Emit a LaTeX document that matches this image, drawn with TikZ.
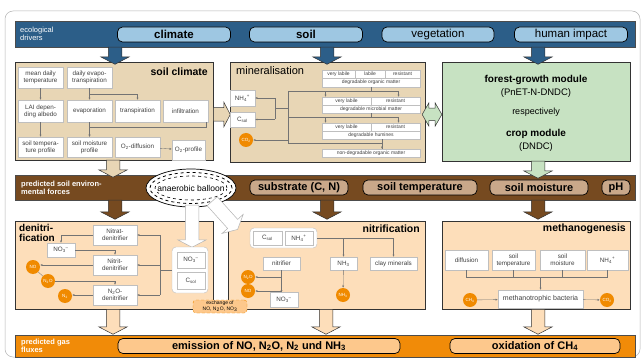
\documentclass[tikz,border=0pt]{standalone}
\usepackage{fontspec}
\setmainfont{Liberation Sans}
\usetikzlibrary{arrows.meta, shapes.arrows, shapes.geometric, positioning}

\definecolor{driverblue}{RGB}{44,94,136}
\definecolor{driverpill}{RGB}{158,199,226}
\definecolor{soilbrown}{RGB}{118,74,32}
\definecolor{soilpill}{RGB}{201,168,138}
\definecolor{fluxorange}{RGB}{241,139,8}
\definecolor{fluxpill}{RGB}{253,200,140}
\definecolor{tanfill}{RGB}{232,214,181}
\definecolor{plantgreen}{RGB}{199,226,194}
\definecolor{peach}{RGB}{253,222,186}
\definecolor{gasdot}{RGB}{240,138,0}

\newcommand{\fs}[2]{\fontsize{#1}{#2}\selectfont}

\begin{document}
\begin{tikzpicture}[x=1pt, y=-1pt,
	bandbox/.style={draw=black!70, line width=0.6pt, anchor=north west, inner sep=0pt, minimum width=620},
	bandtext/.style={text=white, align=left, anchor=west, inner sep=0pt, font=\fs{7.5}{8.5}},
	pill/.style={draw=black, line width=0.7pt, rounded corners=5pt, inner sep=0pt, minimum height=15, font=\fs{11}{12}},
	panel/.style={draw=black!80, line width=0.6pt, anchor=north west, inner sep=0pt},
	title/.style={inner sep=0pt, font=\bfseries\fs{10.5}{11.5}},
	cell/.style={draw=black!25, fill=white, align=center, inner sep=0pt, text=black!75, font=\fs{6.3}{6.9}},
	tabcell/.style={cell, minimum height=8, font=\fs{5}{5}},
	pool/.style={draw=black!25, fill=white, rounded corners=4pt, inner sep=0pt},
	gas/.style={circle, fill=gasdot, text=white, inner sep=0pt, minimum size=14, font=\fs{4.5}{5}},
	flow/.style={draw=black!55, line width=0.35pt, -{Latex[length=2.2pt, width=2pt]}},
	link/.style={draw=black!55, line width=0.35pt},
	blockarrow/.style={single arrow, draw=black!80, line width=0.5pt, inner sep=6.5pt,
		single arrow head extend=7.5pt, single arrow tip angle=125, single arrow head indent=0pt, anchor=tail},
	downarrow/.style={blockarrow, shape border rotate=270, minimum height=#1}
]
	\useasboundingbox (0,0) rectangle (644,363);
	% outer frame
	\draw[black!30, line width=0.5pt, rounded corners=8pt] (5,11) rectangle (640,357);

	% panels of the model
	\node[panel, fill=tanfill, minimum width=198, minimum height=98] (climPanel) at (15,62) {};
	\node[panel, fill=tanfill, minimum width=195, minimum height=100] (minPanel) at (230,62) {};
	\node[panel, fill=plantgreen, minimum width=188, minimum height=99] (plantPanel) at (442,62) {};
	\node[panel, fill=peach, minimum width=198, minimum height=88] (denitPanel) at (15,221) {};
	\node[panel, fill=peach, minimum width=197, minimum height=88] (nitPanel) at (228,221) {};
	\node[panel, fill=peach, minimum width=188, minimum height=88] (methPanel) at (442,221) {};

	% the three bands
	\node[bandbox, fill=driverblue, minimum height=26] (drivers) at (15,21) {};
	\node[bandbox, fill=soilbrown, minimum height=25] (forces) at (15,175) {};
	\node[bandbox, fill=fluxorange, minimum height=22] (fluxes) at (15,335) {};
	\node[bandtext] (driversLbl) at (20,34) {ecological\\drivers};
	\node[bandtext, font=\bfseries\fs{7.5}{8.5}] (forcesLbl) at (21,188) {predicted soil environ-\\mental forces};
	\node[bandtext, font=\bfseries\fs{7.5}{8.5}] (fluxesLbl) at (21,346) {predicted gas\\fluxes};

	% block arrows between the levels
	\foreach \x/\n in {115/a, 327/b, 538/c}
		\node[downarrow=16, fill=driverblue] (drv\n) at (\x,47) {};
	\node[downarrow=15, fill=tanfill] (climDown) at (113,160) {};
	\node[downarrow=14, fill=plantgreen] (plantDown) at (538,161) {};
	\foreach \x/\n in {115/a, 327/b, 538/c}
		\node[downarrow=19, fill=soilbrown] (frc\n) at (\x,200) {};
	\foreach \x/\n in {113/a, 326/b, 538/c}
		\node[downarrow=25, fill=peach] (flx\n) at (\x,309) {};
	\node[blockarrow, minimum height=17, inner sep=6.5pt, single arrow head extend=5.5pt, fill=tanfill] (climMin) at (213,114.5) {};
	\node[double arrow, draw=black!80, line width=0.5pt, fill=plantgreen, inner sep=6pt, minimum height=15,
		double arrow head extend=5.5pt, double arrow tip angle=120, double arrow head indent=0pt] (minPlant) at (432,114.5) {};

	% ecological drivers
	\node[pill, fill=driverpill, minimum width=113, font=\bfseries\fs{11.5}{12}] (climate) at (174,34.5) {climate};
	\node[pill, fill=driverpill, minimum width=113, font=\bfseries\fs{11.5}{12}] (soil) at (306,34.5) {soil};
	\node[pill, fill=driverpill, minimum width=112, font=\fs{11.5}{12}] (vegetation) at (438,34.5) {vegetation};
	\node[pill, fill=driverpill, minimum width=113, font=\fs{11.5}{12}] (humanImpact) at (571,34.5) {human impact};

	% soil climate
	\node[title, anchor=east] (climTitle) at (208,72) {soil climate};
	\node[cell, minimum width=45, minimum height=21] (meanTemp) at (40.5,77.5) {mean daily\\temperature};
	\node[cell, minimum width=45, minimum height=21] (evapoTrans) at (89.5,77.5) {daily evapo-\\transpiration};
	\node[cell, minimum width=45, minimum height=22] (albedo) at (40.5,111) {LAI depen-\\ding albedo};
	\node[cell, minimum width=45, minimum height=22] (evaporation) at (89.5,111) {evaporation};
	\node[cell, minimum width=45, minimum height=22] (transpiration) at (137.5,111) {transpiration};
	\node[cell, minimum width=45, minimum height=22] (infiltration) at (185.5,111) {infiltration};
	\node[cell, minimum width=45, minimum height=20] (tempProfile) at (40.5,147) {soil tempera-\\ture profile};
	\node[cell, minimum width=45, minimum height=20] (moistProfile) at (89.5,147) {soil moisture\\profile};
	\node[cell, minimum width=45, minimum height=20] (oxyDiff) at (137.5,147) {O\textsubscript{2}-diffusion};
	\node[cell, minimum width=33, minimum height=20] (oxyProfile) at (188.5,150) {O\textsubscript{2}-profile};
	\draw[flow] (meanTemp) -- (albedo);
	\draw[flow] (evapoTrans) -- (evaporation);
	\draw[flow] (evapoTrans.south) -- ++(0,6) -| (transpiration.north);
	\draw[flow] (albedo) -- (tempProfile);
	\draw[flow] (evaporation) -- (moistProfile);
	\draw[flow] ([xshift=-2pt]infiltration.south east) -- ++(0,5) -| (moistProfile.north);
	\draw[flow] (oxyDiff) -- (oxyProfile);

	% mineralisation
	\node[inner sep=0pt, anchor=west, font=\fs{11}{12}] (minTitle) at (236,71) {mineralisation};
	\node[tabcell, minimum width=33] (t1a) at (338.5,74) {very labile};
	\node[tabcell, minimum width=30] (t1b) at (370,74) {labile};
	\node[tabcell, minimum width=35] (t1c) at (402.5,74) {resistant};
	\node[tabcell, minimum width=98, minimum height=9] (t1d) at (371,82.5) {degradable organic matter};
	\node[tabcell, minimum width=49] (t2a) at (346.5,101) {very labile};
	\node[tabcell, minimum width=49] (t2b) at (395.5,101) {resistant};
	\node[tabcell, minimum width=98] (t2d) at (371,109) {degradable microbial matter};
	\node[tabcell, minimum width=49] (t3a) at (346.5,127) {very labile};
	\node[tabcell, minimum width=49] (t3b) at (395.5,127) {resistant};
	\node[tabcell, minimum width=98] (t3d) at (371,135) {degradable humines};
	\node[tabcell, minimum width=98] (t4) at (371,153) {non-degradable organic matter};
	\node[cell, minimum width=25, minimum height=16] (nh4Min) at (242.5,98) {NH\textsubscript{4}\textsuperscript{+}};
	\node[cell, minimum width=25, minimum height=15] (csolMin) at (242.5,119.5) {C\textsubscript{sol}};
	\node[gas] (co2Min) at (246,140) {CO\textsubscript{2}};
	\coordinate (busTop) at (288,91);
	\coordinate (busMid) at (288,117);
	\coordinate (busLow) at (288,143);
	\coordinate (leftBus) at (275,108);
	\draw[link] (busTop) -- (busLow) -| ([xshift=11pt]t4.north);
	\draw[link] (t1d.south) -- (t1d.south |- busTop);
	\draw[flow] (busTop) -| ([xshift=-21pt]t2a.north);
	\draw[flow] (busTop) -| ([xshift=3pt]t2b.north);
	\draw[link] (t2d.south) -- (t2d.south |- busMid);
	\draw[flow] (busMid) -| ([xshift=-21pt]t3a.north);
	\draw[flow] (busMid) -| ([xshift=3pt]t3b.north);
	\draw[flow] ([xshift=11pt]t3d.south) -- ([xshift=11pt]t4.north);
	\draw[link] (leftBus) -- (leftBus -| busTop);
	\draw[link] (nh4Min.east -| leftBus) -- (csolMin.east -| leftBus);
	\draw[flow] (nh4Min.east -| leftBus) -- (nh4Min);
	\draw[flow] (csolMin.east -| leftBus) -- (csolMin);
	\draw[flow] (co2Min -| busLow) -- (co2Min);

	% plant growth
	\node[font=\bfseries\fs{10}{11}] (forestMod) at (536,80) {forest-growth module};
	\node[font=\fs{9.5}{10}, below=-3pt of forestMod] (pnet) {(PnET-N-DNDC)};
	\node[font=\fs{9}{10}] (resp) at (536,112) {respectively};
	\node[font=\bfseries\fs{10}{11}] (cropMod) at (536,134) {crop module};
	\node[font=\fs{9.5}{10}, below=-3pt of cropMod] (dndc) {(DNDC)};

	% predicted soil environmental forces
	\node[pill, fill=soilpill, minimum width=98, font=\bfseries\fs{11}{12}] (substrate) at (299,187.5) {substrate (C, N)};
	\node[pill, fill=soilpill, minimum width=114, font=\bfseries\fs{11}{12}] (soilTemp) at (420,187.5) {soil temperature};
	\node[pill, fill=soilpill, minimum width=98, font=\bfseries\fs{11}{12}] (soilMoist) at (539,187.5) {soil moisture};
	\node[pill, fill=soilpill, minimum width=28, font=\bfseries\fs{11}{12}] (ph) at (616,187.5) {pH};
	\node[ellipse, draw, line width=0.7pt, fill=white, minimum width=90, minimum height=38] (balloon) at (191,188) {};
	\node[ellipse, draw, dashed, line width=0.8pt, minimum width=82, minimum height=31] (balloonRing) at (191,188) {};
	\node[ellipse, draw, dashed, line width=0.6pt, minimum width=72, minimum height=24] (balloonCore) at (191,188) {};
	\node[fill=white, inner sep=1pt, font=\fs{8.5}{9}] (balloonLbl) at (191,188) {anaerobic balloon};

	% denitrification
	\node[title, anchor=north west, align=left, font=\bfseries\fs{10}{10.5}] (denitTitle) at (19,224) {denitri-\\fication};
	\node[cell, minimum width=44, minimum height=20] (nitratDen) at (115,235) {Nitrat-\\denitrifier};
	\node[cell, minimum width=28, minimum height=14] (no3Den) at (61,250) {NO\textsubscript{3}\textsuperscript{--}};
	\node[cell, minimum width=44, minimum height=20] (nitritDen) at (115,265) {Nitrit-\\denitrifier};
	\node[cell, minimum width=44, minimum height=20] (n2oDen) at (115,295) {N\textsubscript{2}O-\\denitrifier};
	\node[gas] (noD) at (33,267) {NO};
	\node[gas] (n2oD) at (48,281) {N\textsubscript{2}O};
	\node[gas] (n2D) at (65,296) {N\textsubscript{2}};
	\node[downarrow=42, fill=white, draw=black!30] (balloonDen) at (192,205) {};
	\node[pool, minimum width=36, minimum height=46] (poolDen) at (190,270) {};
	\node[cell, minimum width=28, minimum height=16] (no3Pool) at (191,260) {NO\textsubscript{3}\textsuperscript{--}};
	\node[cell, minimum width=28, minimum height=17] (csolPool) at (191,281) {C\textsubscript{sol}};
	\draw[link] (poolDen.west) -- ++(-12,0) coordinate (denBus);
	\draw[link] (denBus |- nitratDen) -- (denBus |- n2oDen);
	\draw[flow] (denBus |- nitratDen) -- (nitratDen);
	\draw[flow] (denBus |- nitritDen) -- (nitritDen);
	\draw[flow] (denBus |- n2oDen) -- (n2oDen);
	\draw[flow] (nitratDen.west) -| (no3Den.north);
	\draw[flow] (no3Den.east) -| (nitritDen.north);
	\draw[flow] (nitritDen.west) -- (nitritDen.west -| noD.east);
	\draw[link] (noD) -- (n2oD);
	\draw[flow] (n2oD.east) -| (n2oDen.north);
	\draw[flow] (n2oDen.west) -- (n2oDen.west -| n2D.east);

	% nitrification
	\node[blockarrow, rotate=-48, minimum height=38, fill=white, draw=black!30] (balloonNit) at (212,201) {};
	\node[title, anchor=east] (nitTitle) at (420,229) {nitrification};
	\node[pool, minimum width=67, minimum height=20] (poolNit) at (283.5,238) {};
	\node[cell, minimum width=29, minimum height=14] (csolNit) at (267.5,238) {C\textsubscript{sol}};
	\node[cell, minimum width=28, minimum height=14] (nh4Nit) at (299,238) {NH\textsubscript{4}\textsuperscript{+}};
	\node[cell, minimum width=37, minimum height=13] (nitrifier) at (281.5,263.5) {nitrifier};
	\node[cell, minimum width=27, minimum height=13] (nh3Nit) at (343.5,263.5) {NH\textsubscript{3}};
	\node[cell, minimum width=47, minimum height=13] (clay) at (393.5,263.5) {clay minerals};
	\node[gas] (n2oN) at (248,277) {N\textsubscript{2}O};
	\node[gas] (noN) at (248,291) {NO};
	\node[gas] (nh3Gas) at (343,295) {NH\textsubscript{3}};
	\node[cell, minimum width=28, minimum height=15] (no3Nit) at (284,300) {NO\textsubscript{3}\textsuperscript{--}};
	\draw[link] (poolNit.east) -- (clay.north |- poolNit.east);
	\draw[flow] (nh3Nit.north |- poolNit.east) -- (nh3Nit.north);
	\draw[flow] (clay.north |- poolNit.east) -- (clay.north);
	\draw[flow] (nitrifier.south) -- (nitrifier.south |- no3Nit.north);
	\draw[flow] (nitrifier.south |- n2oN) -- (n2oN);
	\draw[flow] (nitrifier.south |- noN) -- (noN);
	\draw[flow] (nh3Nit) -- (nh3Gas);
	\node[draw=gasdot, densely dashed, fill=fluxpill, rounded corners=3pt, align=center, inner sep=0pt,
		minimum width=54, minimum height=13, font=\fs{5}{5.5}] (exchange) at (220,306.5) {exchange of\\NO, N\textsubscript{2}O, NO\textsubscript{3}};

	% methanogenesis
	\node[title, anchor=east] (methTitle) at (626,229) {methanogenesis};
	\node[cell, minimum width=43, minimum height=20] (diffusion) at (466.5,260) {diffusion};
	\node[cell, minimum width=43, minimum height=20] (methTemp) at (513.5,260) {soil\\temperature};
	\node[cell, minimum width=45, minimum height=20] (methMoist) at (562.5,260) {soil\\moisture};
	\node[cell, minimum width=41, minimum height=20] (nh4Meth) at (607.5,260) {NH\textsubscript{4}\textsuperscript{+}};
	\node[cell, minimum width=85, minimum height=18, font=\fs{7}{8}] (bacteria) at (540.5,299) {methanotrophic bacteria};
	\node[gas] (ch4) at (470,300) {CH\textsubscript{4}};
	\node[gas] (co2Meth) at (607,300) {CO\textsubscript{2}};
	\draw[link] (diffusion.south) -- ++(0,7) coordinate (methBus) -| (nh4Meth.south);
	\draw[link] (methTemp.south) -- (methTemp.south |- methBus);
	\draw[link] (methMoist.south) -- (methMoist.south |- methBus);
	\draw[flow] (bacteria.north |- methBus) -- (bacteria.north);
	\draw[flow] (ch4) -- (bacteria);
	\draw[flow] (bacteria) -- (co2Meth);

	% predicted gas fluxes
	\node[pill, fill=fluxpill, minimum width=282, font=\bfseries\fs{11}{12}] (emission) at (259,346) {emission of NO, N\textsubscript{2}O, N\textsubscript{2} und NH\textsubscript{3}};
	\node[pill, fill=fluxpill, minimum width=170, font=\bfseries\fs{11}{12}] (oxidation) at (535,346) {oxidation of CH\textsubscript{4}};
\end{tikzpicture}
\end{document}
